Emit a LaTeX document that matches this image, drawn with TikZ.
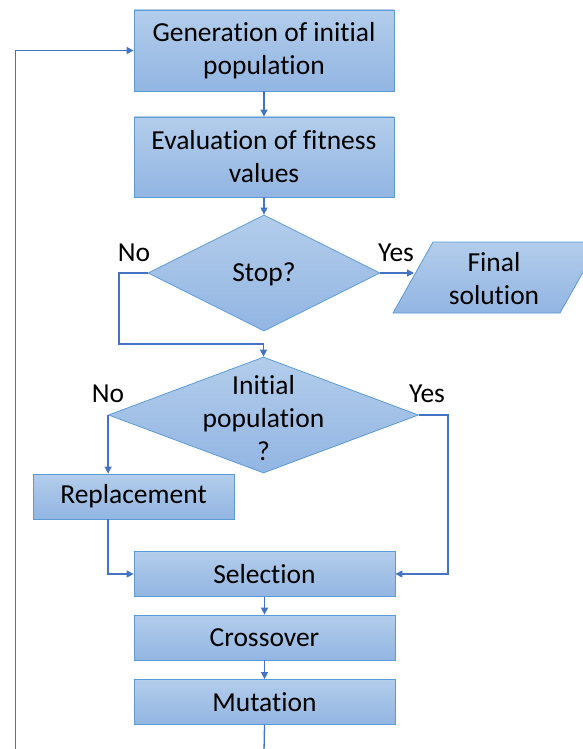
\documentclass[tikz,border=0pt]{standalone}
\usepackage{fontspec}
\setmainfont{Carlito}[Ligatures=NoCommon]
\usetikzlibrary{shapes.geometric,arrows.meta}
\definecolor{edge}{HTML}{4472C4}
\definecolor{bord}{HTML}{5B9BD5}
\definecolor{ftop}{HTML}{B3CDEB}
\definecolor{fbot}{HTML}{92B5E2}
\begin{document}
\begin{tikzpicture}[x=1pt,y=-1pt,
  fnt/.style={font=\fontsize{27.5}{33}\selectfont},
  box/.style={draw=bord, line width=0.8pt, top color=ftop, bottom color=fbot,
    rectangle, inner sep=0pt, align=center, fnt},
  dia/.style={draw=bord, line width=0.8pt, top color=ftop, bottom color=fbot,
    diamond, inner sep=0pt},
  txt/.style={align=center, inner sep=0pt, fnt},
  arr/.style={draw=edge, line width=1.3pt, -{Triangle[length=7pt,width=7pt]}},
  ln/.style={draw=edge, line width=1.3pt}]
\clip (0,0) rectangle (583,749);
\fill[white] (0,0) rectangle (583,749);

\node[box, minimum width=260pt, minimum height=81pt] (gen) at (264,50.5) {Generation of initial\\population};
\node[box, minimum width=260pt, minimum height=80pt] (eval) at (264,157) {Evaluation of fitness\\values};
\node[dia, minimum width=232pt, minimum height=116pt] (stop) at (264,273) {};
\node[txt] (stopt) at (264,274) {Stop?};

% final solution parallelogram
\path[draw=bord, line width=0.8pt, top color=ftop, bottom color=fbot]
  (433,242) -- (600,242) -- (560,313) -- (393,313) -- cycle;
\node[txt] (fin) at (494,279) {Final\\solution};
\coordinate (finL) at (414,273);

\node[dia, minimum width=310pt, minimum height=116pt] (d2) at (263.5,415) {};
\node[txt] (d2t) at (263.5,418) {Initial\\population\\?};

\node[box, minimum width=201pt, minimum height=45pt] (rep) at (133.5,496.5) {Replacement};
\node[box, minimum width=261pt, minimum height=45pt] (sel) at (264.5,574) {Selection};
\node[box, minimum width=261pt, minimum height=45pt] (cro) at (264.5,637.5) {Crossover};
\node[box, minimum width=261pt, minimum height=45pt] (mut) at (264.5,702) {Mutation};

\node[txt] (no1) at (134,253) {No};
\node[txt] (yes1) at (396,253) {Yes};
\node[txt] (no2) at (108,394) {No};
\node[txt] (yes2) at (427,394) {Yes};

\coordinate (c1) at (119,344);
\coordinate (c2) at (448,415);
\coordinate (bot) at (264,752);
\coordinate (lb) at (15.5,752);

\draw[arr] (gen) -- (eval);
\draw[arr] (eval) -- (stop);
\draw[arr] (stop.east) -- (finL);
\draw[arr] (stop.west) -- (stop.west -| c1) -- (c1) -- (c1 -| d2.north) -- (d2.north);
\draw[arr] (d2.west) -- (d2.west |- rep.north);
\draw[arr] (d2.east) -- (c2) |- (sel.east);
\draw[arr] (d2.west |- rep.south) |- (sel.west);
\draw[arr] (sel) -- (cro);
\draw[arr] (cro) -- (mut);
\draw[ln] (mut.south) -- (bot);
\draw[arr] (lb) |- (gen.west);
\end{tikzpicture}
\end{document}
